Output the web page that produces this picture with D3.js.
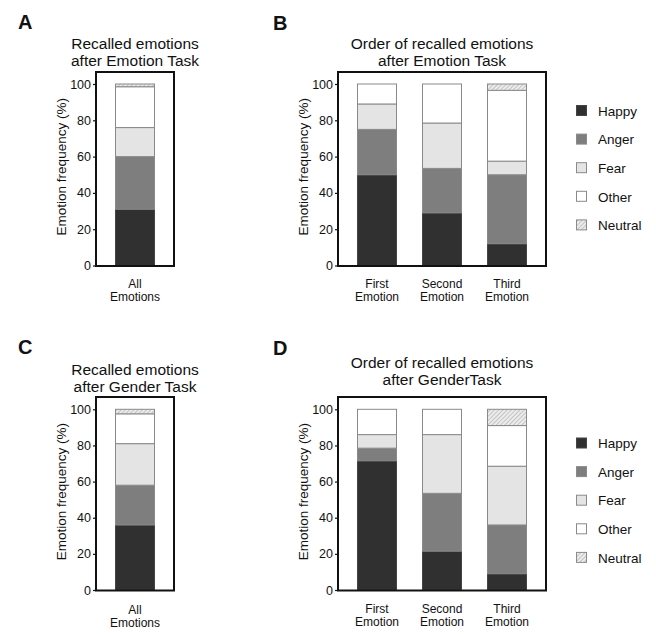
<!DOCTYPE html>
<html>
<head>
<meta charset="utf-8">
<script src="https://cdn.jsdelivr.net/npm/d3@7"></script>
<style>
  html, body { margin: 0; padding: 0; background: #fff; }
  svg { display: block; font-family: Arial, "Liberation Sans", Helvetica, sans-serif; }
</style>
</head>
<body>
<svg id="chart" width="656" height="634"></svg>
<script>
// ---------- data ----------
const emotions = ["Happy", "Anger", "Fear", "Other", "Neutral"];
const yTickValues = [0, 20, 40, 60, 80, 100];
const allCategory = ["All Emotions"];
const orderCategories = ["First Emotion", "Second Emotion", "Third Emotion"];

// Panel A: recalled emotions after Emotion Task
const aHappy = [31], aAnger = [29], aFear = [16], aOther = [22.5], aNeutral = [1.5];
// Panel B: order of recalled emotions after Emotion Task
const bHappy = [50, 29, 12], bAnger = [25, 24.5, 38], bFear = [14, 25, 7.5], bOther = [11, 21.5, 39], bNeutral = [0, 0, 3.5];
// Panel C: recalled emotions after Gender Task
const cHappy = [36], cAnger = [22], cFear = [23], cOther = [16.5], cNeutral = [2.5];
// Panel D: order of recalled emotions after Gender Task
const dHappy = [71.5, 21.5, 9], dAnger = [7, 32, 27], dFear = [7.5, 32.5, 32.5], dOther = [14, 14, 22.5], dNeutral = [0, 0, 9];

// ---------- styles ----------
const fills = { Happy: "#303030", Anger: "#7e7e7e", Fear: "#e4e4e4", Other: "#ffffff", Neutral: "url(#hatch)" };
const segStroke = "#8a8a8a";

const svg = d3.select("#chart");
const defs = svg.append("defs");
const pat = defs.append("pattern").attr("id", "hatch").attr("patternUnits", "userSpaceOnUse")
  .attr("width", 3).attr("height", 3).attr("patternTransform", "rotate(45)");
pat.append("rect").attr("width", 3).attr("height", 3).attr("fill", "#ececec");
pat.append("line").attr("x1", 0).attr("y1", 0).attr("x2", 0).attr("y2", 3)
  .attr("stroke", "#a8a8a8").attr("stroke-width", 1.2);

function buildRows(cats, series) {
  return cats.map((c, i) => {
    const r = { cat: c };
    emotions.forEach((e, k) => r[e] = series[k][i]);
    return r;
  });
}

const panels = [
  { letter: "A", lx: 18, ly: 29, title: ["Recalled emotions", "after Emotion Task"], ty: 48.5,
    cats: allCategory, series: [aHappy, aAnger, aFear, aOther, aNeutral],
    fx0: 96, fx1: 174, fy0: 72, fy1: 266, y0: 265.5, y100: 84, xly: 288, ylx: 61, legend: false },
  { letter: "B", lx: 273, ly: 30, title: ["Order of recalled emotions", "after Emotion Task"], ty: 48.5,
    cats: orderCategories, series: [bHappy, bAnger, bFear, bOther, bNeutral],
    fx0: 338, fx1: 546, fy0: 72, fy1: 266, y0: 265.5, y100: 84, xly: 288, ylx: 303, legend: true, legY: 111 },
  { letter: "C", lx: 18, ly: 354, title: ["Recalled emotions", "after Gender Task"], ty: 374.5,
    cats: allCategory, series: [cHappy, cAnger, cFear, cOther, cNeutral],
    fx0: 96, fx1: 174, fy0: 397, fy1: 590.5, y0: 590, y100: 409.3, xly: 613.5, ylx: 61, legend: false },
  { letter: "D", lx: 273, ly: 355, title: ["Order of recalled emotions", "after GenderTask"], ty: 368,
    cats: orderCategories, series: [dHappy, dAnger, dFear, dOther, dNeutral],
    fx0: 338, fx1: 546, fy0: 397, fy1: 590.5, y0: 590, y100: 409.3, xly: 613, ylx: 303, legend: true, legY: 443.5 }
];

panels.forEach(p => {
  const g = svg.append("g");
  const rows = buildRows(p.cats, p.series);
  const stack = d3.stack().keys(emotions)(rows);

  const x = d3.scaleBand().domain(p.cats).range([p.fx0, p.fx1]).paddingInner(0.4).paddingOuter(0.3);
  const y = d3.scaleLinear().domain([0, 100]).range([p.y0, p.y100]);

  // panel letter
  g.append("text").attr("x", p.lx).attr("y", p.ly).attr("font-size", 20).attr("font-weight", "bold")
    .attr("fill", "#111").text(p.letter);

  // title
  const cx = (p.fx0 + p.fx1) / 2;
  p.title.forEach((t, i) => {
    g.append("text").attr("x", cx).attr("y", p.ty + i * 17).attr("text-anchor", "middle")
      .attr("font-size", 15.5).attr("fill", "#111").text(t);
  });

  // bars
  stack.forEach(layer => {
    const key = layer.key;
    g.append("g").selectAll("rect").data(layer.filter(d => d[1] - d[0] > 0)).join("rect")
      .attr("x", d => x(d.data.cat))
      .attr("width", x.bandwidth())
      .attr("y", d => y(d[1]))
      .attr("height", d => y(d[0]) - y(d[1]))
      .attr("fill", fills[key])
      .attr("stroke", key === "Happy" ? "#444" : segStroke)
      .attr("stroke-width", 1);
  });

  // y axis
  const ax = g.append("g").attr("transform", `translate(${p.fx0},0)`)
    .call(d3.axisLeft(y).tickValues(yTickValues).tickSize(3).tickPadding(2));
  ax.select(".domain").remove();
  ax.selectAll(".tick line").attr("stroke", "#111").attr("stroke-width", 1.2);
  ax.selectAll(".tick text").attr("font-size", 12.5).attr("fill", "#111")
    .attr("font-family", "Arial, 'Liberation Sans', sans-serif");

  // frame
  g.append("rect").attr("x", p.fx0).attr("y", p.fy0).attr("width", p.fx1 - p.fx0)
    .attr("height", p.fy1 - p.fy0).attr("fill", "none").attr("stroke", "#111").attr("stroke-width", 2);

  // y label
  const ylc = (p.y0 + p.y100) / 2 - 8;
  g.append("text").attr("transform", `translate(${p.ylx},${ylc}) rotate(-90)`)
    .attr("text-anchor", "middle").attr("dy", "0.35em").attr("font-size", 13.5).attr("fill", "#111")
    .text("Emotion frequency (%)");

  // x labels
  p.cats.forEach(c => {
    const parts = c.split(" ");
    parts.forEach((t, i) => {
      g.append("text").attr("x", x(c) + x.bandwidth() / 2).attr("y", p.xly + i * 13)
        .attr("text-anchor", "middle").attr("font-size", 12).attr("fill", "#111").text(t);
    });
  });

  // legend
  if (p.legend) {
    const lg = g.append("g");
    emotions.forEach((e, i) => {
      const cy = p.legY + i * 28.6;
      lg.append("rect").attr("x", 576.5).attr("y", cy - 5.5).attr("width", 10).attr("height", 10)
        .attr("fill", fills[e]).attr("stroke", e === "Happy" ? "#444" : "#8a8a8a").attr("stroke-width", 1);
      lg.append("text").attr("x", 598).attr("y", cy).attr("dy", "0.35em")
        .attr("font-size", 13.5).attr("fill", "#111").text(e);
    });
  }
});
</script>
</body>
</html>
